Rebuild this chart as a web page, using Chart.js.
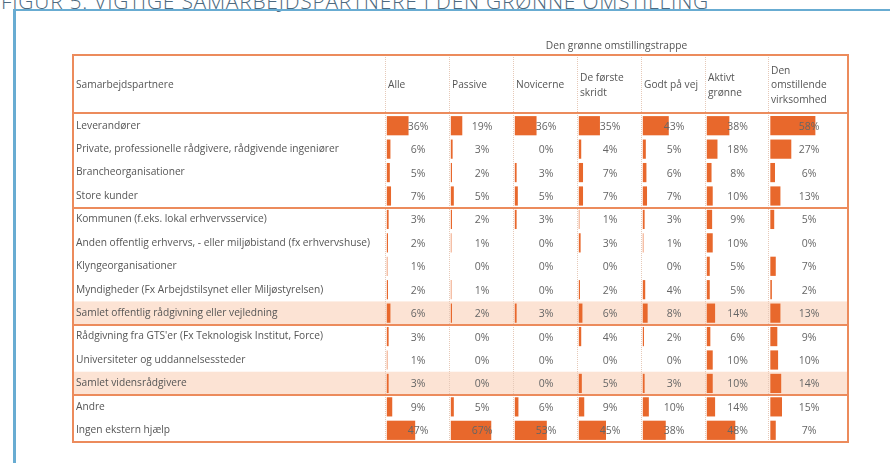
<!DOCTYPE html>
<html lang="da">
<head>
<meta charset="utf-8">
<title>Figur 5: Vigtige samarbejdspartnere i den grønne omstilling</title>
<script src="https://cdn.jsdelivr.net/npm/chart.js@4.4.1/dist/chart.umd.min.js"></script>
<style>
  html, body { margin: 0; padding: 0; background: #fff; }
  body { width: 890px; height: 463px; position: relative; overflow: hidden; font-family: 'Open Sans', sans-serif; }
  .fig-title { position: absolute; left: 1px; top: -13px; font-size: 21px; font-weight: 300; color: #4d6a80; white-space: nowrap; letter-spacing: 0.75px; }
  .frame { position: absolute; left: 13px; top: 9px; width: 900px; height: 500px; border-left: 3px solid #68acd2; border-top: 2px solid #68acd2; }
  #wrap { position: absolute; left: 0; top: 0; width: 890px; height: 463px; }
</style>
</head>
<body>
<div class="fig-title">FIGUR 5: VIGTIGE SAMARBEJDSPARTNERE I DEN GRØNNE OMSTILLING</div>
<div class="frame"></div>
<div id="wrap"><canvas id="chart" width="890" height="463"></canvas></div>
<script>
// --- DATA ---
const categories = [
    'Leverandører',
    'Private, professionelle rådgivere, rådgivende ingeniører',
    'Brancheorganisationer',
    'Store kunder',
    'Kommunen (f.eks. lokal erhvervsservice)',
    'Anden offentlig erhvervs, - eller miljøbistand (fx erhvervshuse)',
    'Klyngeorganisationer',
    'Myndigheder (Fx Arbejdstilsynet eller Miljøstyrelsen)',
    'Samlet offentlig rådgivning eller vejledning',
    "Rådgivning fra GTS'er (Fx Teknologisk Institut, Force)",
    'Universiteter og uddannelsessteder',
    'Samlet vidensrådgivere',
    'Andre',
    'Ingen ekstern hjælp'
];
const rowHeader = 'Samarbejdspartnere';
const groupTitle = 'Den grønne omstillingstrappe';
const columns = [['Alle'], ['Passive'], ['Novicerne'], ['De første', 'skridt'], ['Godt på vej'], ['Aktivt', 'grønne'], ['Den', 'omstillende', 'virksomhed']];

const alle          = [36, 6, 5, 7, 3, 2, 1, 2, 6, 3, 1, 3, 9, 47];
const passive       = [19, 3, 2, 5, 2, 1, 0, 1, 2, 0, 0, 0, 5, 67];
const novicerne     = [36, 0, 3, 5, 3, 0, 0, 0, 3, 0, 0, 0, 6, 53];
const foersteSkridt = [35, 4, 7, 7, 1, 3, 0, 2, 6, 4, 0, 5, 9, 45];
const godtPaaVej    = [43, 5, 6, 7, 3, 1, 0, 4, 8, 2, 0, 3, 10, 38];
const aktivtGroenne = [38, 18, 8, 10, 9, 10, 5, 5, 14, 6, 10, 10, 14, 48];
const omstillende   = [58, 27, 6, 13, 5, 0, 7, 2, 13, 9, 10, 14, 15, 7];
const seriesValues = [alle, passive, novicerne, foersteSkridt, godtPaaVej, aktivtGroenne, omstillende];

const summaryRows = [8, 11];      // "Samlet ..." rows
const groupStarts = [4, 9, 12];   // first row of each new group

// --- STYLE ---
const ORANGE = '#e8682c';
const LINE = '#ec8b5c';
const TEXT = '#555';
const FONT = "'Open Sans', sans-serif";
const colWeights = [64, 64, 64, 64, 64, 63, 80];
const HEADER_H = 59;

const xIds = seriesValues.map((_, i) => `x${i}`);

const tablePlugin = {
    id: 'tableDecor',
    beforeDraw(chart) {
        const { ctx, chartArea: a, scales } = chart;
        const band = (a.bottom - a.top) / categories.length;
        const left = scales.y.left - 3;
        const headerTop = a.top - HEADER_H;
        ctx.save();
        // summary rows
        ctx.fillStyle = '#fce3d4';
        summaryRows.forEach(r => ctx.fillRect(left, a.top + r * band, a.right - left, band));
        // dotted column separators
        ctx.strokeStyle = '#e6c9b8';
        ctx.lineWidth = 1;
        ctx.setLineDash([1, 1]);
        xIds.forEach(id => {
            const x = Math.round(scales[id].left) + 0.5;
            ctx.beginPath();
            ctx.moveTo(x, headerTop);
            ctx.lineTo(x, a.bottom);
            ctx.stroke();
        });
        ctx.setLineDash([]);
        // header texts
        ctx.fillStyle = TEXT;
        ctx.font = `10.2px ${FONT}`;
        ctx.textBaseline = 'middle';
        ctx.textAlign = 'left';
        const midY = headerTop + HEADER_H / 2 + 1;
        ctx.fillText(rowHeader, scales.y.left, midY);
        columns.forEach((lines, i) => {
            const s = scales[xIds[i]];
            const lh = 14.5;
            const y0 = midY - (lines.length - 1) * lh / 2;
            lines.forEach((t, j) => ctx.fillText(t, s.left + 3, y0 + j * lh));
        });
        ctx.textAlign = 'center';
        ctx.fillText(groupTitle, (a.left + a.right) / 2, headerTop - 9);
        ctx.restore();
    },
    afterDatasetsDraw(chart) {
        const { ctx, chartArea: a, scales } = chart;
        const band = (a.bottom - a.top) / categories.length;
        const left = scales.y.left - 3;
        const headerTop = a.top - HEADER_H;
        ctx.save();
        // value labels
        ctx.fillStyle = '#666';
        ctx.font = `10.5px ${FONT}`;
        ctx.textAlign = 'center';
        ctx.textBaseline = 'middle';
        seriesValues.forEach((vals, i) => {
            const s = scales[xIds[i]];
            const cx = (s.left + s.right) / 2 + 1;
            vals.forEach((v, r) => ctx.fillText(`${v}%`, cx, scales.y.getPixelForValue(r) + 1));
        });
        // orange rules
        ctx.strokeStyle = LINE;
        ctx.lineWidth = 2;
        const hline = y => { ctx.beginPath(); ctx.moveTo(left, y); ctx.lineTo(a.right, y); ctx.stroke(); };
        hline(a.top - 1);
        groupStarts.forEach(r => hline(Math.round(a.top + r * band)));
        ctx.strokeRect(left, headerTop, a.right - left, a.bottom - headerTop);
        ctx.restore();
    }
};

const datasets = seriesValues.map((vals, i) => ({
    label: columns[i].join(' '),
    data: vals,
    xAxisID: xIds[i],
    yAxisID: 'y',
    backgroundColor: ORANGE,
    grouped: false,
    barPercentage: 0.82,
    categoryPercentage: 1
}));

const scales = {
    y: {
        type: 'category',
        position: 'left',
        grid: { display: false },
        border: { display: false },
        ticks: { autoSkip: false, crossAlign: 'far', padding: 0, color: TEXT, font: { family: FONT, size: 10.2 } },
        afterFit: scale => { scale.width = 309; }
    }
};
xIds.forEach((id, i) => {
    scales[id] = {
        type: 'linear',
        position: 'bottom',
        stack: 'columns',
        stackWeight: colWeights[i],
        min: -3,
        max: i === xIds.length - 1 ? 100 : 103,
        display: false
    };
});

new Chart(document.getElementById('chart'), {
    type: 'bar',
    data: { labels: categories, datasets },
    options: {
        indexAxis: 'y',
        responsive: false,
        animation: false,
        layout: { padding: { left: 76, right: 42, top: 114, bottom: 21 } },
        plugins: { legend: { display: false }, tooltip: { enabled: false } },
        scales
    },
    plugins: [tablePlugin]
});
</script>
</body>
</html>
